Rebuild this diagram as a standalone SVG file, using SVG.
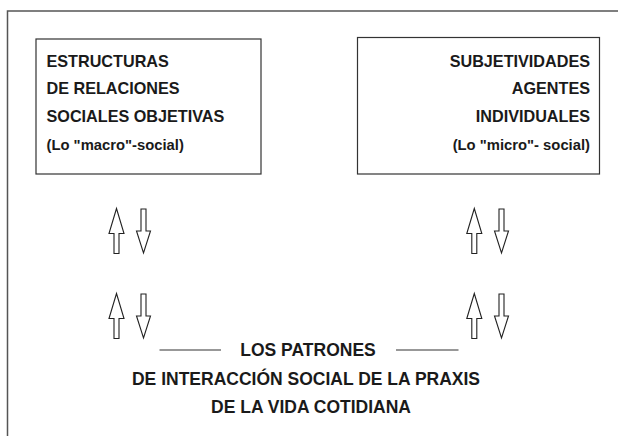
<svg xmlns="http://www.w3.org/2000/svg" width="618" height="436" viewBox="0 0 618 436">
<style>
.t{font-family:"Liberation Sans",Arial,sans-serif;font-weight:bold;fill:#1a1a1a}
.m{font-size:16.2px}
.s{font-size:14.8px}
.b{font-size:17.5px}
.box{fill:#fff;stroke:#333;stroke-width:1.2}
.ar{fill:#fff;stroke:#222;stroke-width:1.1;stroke-linejoin:miter}
.ln{stroke:#333;stroke-width:1.2}
</style>
<defs>
<path id="up" d="M0,0 L7.5,25 L2.5,25 L2.5,45 L-2.5,45 L-2.5,25 L-7.5,25 Z"/>
<path id="down" d="M-2.5,0 L2.5,0 L2.5,22 L7,22 L0,44 L-7,22 L-2.5,22 Z"/>
</defs>
<g id="frame">
<path d="M7.5,436 L7.5,11 L618,11" fill="none" stroke="#555" stroke-width="1.5"/>
</g>
<g id="node-estructuras">
<rect class="box" x="36" y="39" width="225" height="135"/>
<text class="t m" x="46.5" y="67">ESTRUCTURAS</text>
<text class="t m" x="46.5" y="94">DE RELACIONES</text>
<text class="t m" x="46.5" y="121.5">SOCIALES OBJETIVAS</text>
<text class="t s" x="46.5" y="150">(Lo "macro"-social)</text>
</g>
<g id="node-subjetividades">
<rect class="box" x="357.5" y="37.5" width="242" height="136.5"/>
<text class="t m" x="590" y="67" text-anchor="end">SUBJETIVIDADES</text>
<text class="t m" x="590" y="94" text-anchor="end">AGENTES</text>
<text class="t m" x="590" y="121.5" text-anchor="end">INDIVIDUALES</text>
<text class="t s" x="590" y="149.5" text-anchor="end">(Lo "micro"- social)</text>
</g>
<g id="node-patrones">
<text class="t b" x="308" y="356" text-anchor="middle">LOS PATRONES</text>
<text class="t b" x="306" y="385" text-anchor="middle">DE INTERACCIÓN SOCIAL DE LA PRAXIS</text>
<text class="t b" x="311" y="413" text-anchor="middle">DE LA VIDA COTIDIANA</text>
</g>
<g id="connectors">
<use href="#up" class="ar" x="116.5" y="208.5"/>
<use href="#down" class="ar" x="143.5" y="209"/>
<use href="#up" class="ar" x="116.5" y="293.5"/>
<use href="#down" class="ar" x="143.5" y="294"/>
<use href="#up" class="ar" x="474.3" y="208.5"/>
<use href="#down" class="ar" x="501.5" y="209"/>
<use href="#up" class="ar" x="474.3" y="293.5"/>
<use href="#down" class="ar" x="501.5" y="294"/>
<line class="ln" x1="159.5" y1="350" x2="221" y2="350"/>
<line class="ln" x1="396" y1="350" x2="458.5" y2="350"/>
</g>
</svg>
